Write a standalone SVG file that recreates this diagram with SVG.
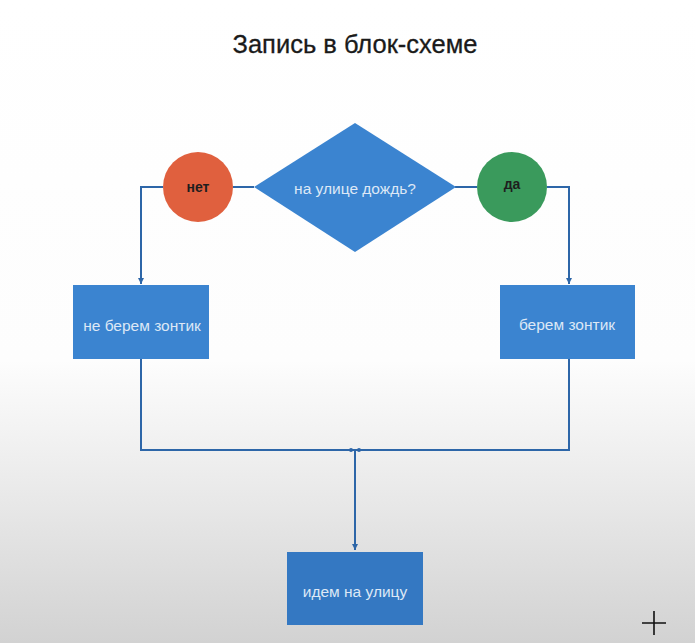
<svg xmlns="http://www.w3.org/2000/svg" width="695" height="643" viewBox="0 0 695 643">
<defs>
<linearGradient id="bg" x1="0" y1="0" x2="0" y2="1">
<stop offset="0" stop-color="#ffffff"/>
<stop offset="0.56" stop-color="#fdfdfd"/>
<stop offset="0.75" stop-color="#ebebeb"/>
<stop offset="1" stop-color="#d2d2d2"/>
</linearGradient>
<marker id="arr" markerWidth="8" markerHeight="8" refX="6" refY="4" orient="auto" markerUnits="userSpaceOnUse">
<path d="M0,1 L6,4 L0,7 Z" fill="#2d66a8"/>
</marker>
<style>
.box{fill:#3b84d0}
.lbl{font-family:"Liberation Sans",Arial,sans-serif;font-size:15.5px;fill:#dde8f6;text-anchor:middle;dominant-baseline:central}
.dark{font-family:"Liberation Sans",Arial,sans-serif;font-size:14px;font-weight:bold;fill:#1e1e1e;text-anchor:middle;dominant-baseline:central}
.ln{fill:none;stroke:#2d66a8;stroke-width:2}
</style>
</defs>
<rect width="695" height="643" fill="url(#bg)"/>
<text x="355" y="53" font-family="Liberation Sans,Arial,sans-serif" font-size="25.5" fill="#1a1a1a" stroke="#1a1a1a" stroke-width="0.3" text-anchor="middle">Запись в блок-схеме</text>
<g id="connectors">
<path class="ln" d="M254,187 H233"/>
<path class="ln" d="M163,187 H141 V284" marker-end="url(#arr)"/>
<path class="ln" d="M455,187 H477"/>
<path class="ln" d="M547,187 H569 V284" marker-end="url(#arr)"/>
<path class="ln" d="M141,359 V450 H569 V359"/>
<path class="ln" d="M355,450 V550" marker-end="url(#arr)"/>
<circle cx="351" cy="450" r="2" fill="#2d66a8"/>
<circle cx="359" cy="450" r="2" fill="#2d66a8"/>
</g>
<g id="decision">
<polygon class="box" points="355,123 456,187 355,252 254,187"/>
<text class="lbl" x="355" y="188">на улице дождь?</text>
</g>
<g id="no">
<circle cx="198" cy="187" r="35" fill="#e0603e"/>
<text class="dark" x="198" y="187">нет</text>
</g>
<g id="yes">
<circle cx="512" cy="187" r="35" fill="#3a9a5c"/>
<text class="dark" x="512" y="184">да</text>
</g>
<g id="noUmbrella">
<rect class="box" x="73" y="285" width="136" height="74"/>
<text class="lbl" x="142" y="325">не берем зонтик</text>
</g>
<g id="umbrella">
<rect class="box" x="500" y="285" width="135" height="74"/>
<text class="lbl" x="567" y="324">берем зонтик</text>
</g>
<g id="goOut">
<rect x="287" y="552" width="136" height="73" fill="#3478c2"/>
<text class="lbl" x="355" y="591">идем на улицу</text>
</g>
<path d="M642,623 H666 M654,611 V635" stroke="#111" stroke-width="1.6" fill="none"/>
</svg>
